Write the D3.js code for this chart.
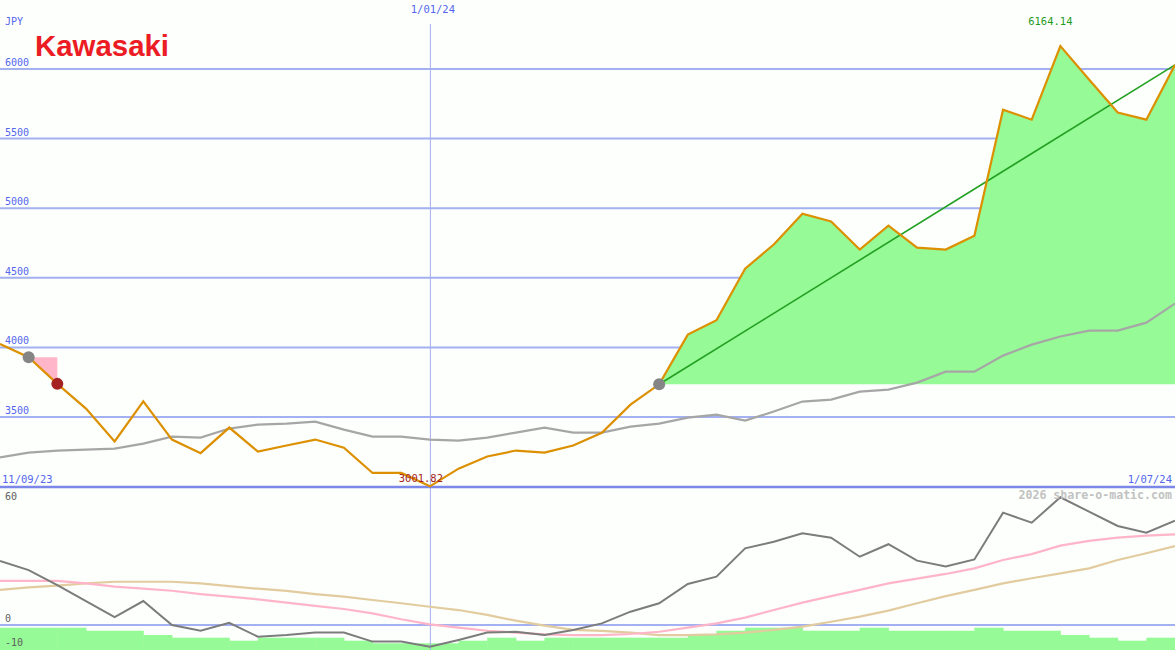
<!DOCTYPE html>
<html>
<head>
<meta charset="utf-8">
<script src="https://cdn.jsdelivr.net/npm/d3@7"></script>
<style>
  html, body { margin: 0; padding: 0; background: #fcfffc; }
  svg { display: block; }
  text { font-family: "DejaVu Sans Mono", monospace; }
</style>
</head>
<body>
<svg id="chart" width="1175" height="650"></svg>
<script>
// ---- data (weekly points, index 0..41) ----
const tickIndex  = [0, 15, 41];
const tickLabels = ["11/09/23", "1/01/24", "1/07/24"];
const priceTicks = [3500, 4000, 4500, 5000, 5500, 6000];
const lowerTicks = [60, 0, -10];

const prices = [4025,3930,3738,3560,3325,3613,3338,3240,3424,3251,
                3295,3338,3280,3098,3098,3001.82,3129,3216,3259,3244,
                3295,3386,3589,3735,4092,4195,4566,4739,4961,4904,
                4703,4875,4717,4703,4803,5708,5636,6164.14,5925,5687,
                5636,6030];
const movingAvg = [3210,3244,3259,3266,3273,3309,3359,3352,3417,3445,
                   3453,3467,3409,3359,3359,3338,3330,3352,3388,3424,
                   3388,3388,3431,3453,3496,3517,3474,3539,3611,3625,
                   3682,3697,3747,3826,3826,3941,4020,4078,4121,4121,
                   4178,4315];
const momentum = [31.2,26.8,19.5,11.7,3.9,11.7,0,-2.8,1.1,-5.7,
                  -4.9,-3.7,-3.7,-8.1,-8.1,-10.6,-7.3,-3.7,-3.3,-4.9,
                  -2.4,0.8,6.5,10.6,20,23.6,37.4,40.6,44.7,42.6,
                  33.3,39.4,31.4,28.5,32,54.8,49.9,62.3,55.3,48.3,
                  45,50.9];
const signalPink = [21.5,21.5,21.5,20.3,18.7,17.7,16.7,15.1,13.8,12.5,
                    10.9,9.3,7.8,5.7,2.8,0.3,-1.3,-2.8,-3.7,-4.6,
                    -4.9,-4.9,-4.4,-3.3,-1.3,0.8,3.6,7.3,10.9,14.1,
                    17.1,20.3,22.6,24.9,27.6,31.7,34.6,38.7,41,42.6,
                    43.6,44.2];
const signalTan = [17.1,18.4,19.2,20.3,21.1,21.1,21.1,20.3,19,17.7,
                   16.6,15.1,13.8,12.2,10.6,8.9,7.3,4.9,2.1,-0.3,
                   -2.4,-2.9,-3.7,-4.9,-4.9,-4.6,-3.7,-2.4,-0.8,1.6,
                   4.1,7,10.6,14.1,17.1,20.3,22.8,25.2,27.6,31.7,
                   35,38.5];
const volume = [2.23,2.23,2.23,1.93,1.93,1.5,1.23,1.23,0.93,1.23,
                1.23,1.23,0.93,0.67,0.67,0.67,0.93,1.23,0.93,1.23,
                1.23,1.23,1.23,1.23,1.5,1.93,2.23,2.23,1.93,1.93,
                2.23,1.93,1.93,1.93,2.23,1.93,1.93,1.5,1.23,0.93,
                1.23];
const sellIdx = [1, 2];     // grey -> red marker span
const buyIdx  = 23;        // grey marker, start of trend
const currency = "JPY";
const company  = "Kawasaki";
const credit   = "2026 share-o-matic.com";

// ---- layout ----
const W = 1175, H = 650;
const svg = d3.select("#chart");
svg.append("rect").attr("width", W).attr("height", H).attr("fill", "#fcfffc");

const x = d3.scaleLinear().domain([0, prices.length - 1]).range([0, W]);
const y = d3.scaleLinear().domain([3000, 6000]).range([486.6, 69]);
const yl = d3.scaleLinear().domain([0, 60]).range([625, 502]);
const yv = d3.scaleLinear().domain([0, 2.23]).range([650, 627.7]);

const blue = "#5566ee";

// grid lines (upper)
svg.append("g").selectAll("line").data(priceTicks).join("line")
  .attr("x1", 0).attr("x2", W)
  .attr("y1", d => y(d)).attr("y2", d => y(d))
  .attr("stroke", "#a3b1f3").attr("stroke-width", 2);
svg.append("g").selectAll("text").data(priceTicks).join("text")
  .attr("x", 5).attr("y", d => y(d) - 3)
  .attr("fill", blue).attr("font-size", 10).text(d => d);

// volume bars (lower)
svg.append("g").selectAll("rect").data(volume).join("rect")
  .attr("x", (d, i) => x(i)).attr("width", (d, i) => x(i + 1) - x(i) + 0.5)
  .attr("y", d => yv(d)).attr("height", d => yv(0) - yv(d))
  .attr("fill", "#96fa96");

// lower zero line
svg.append("line").attr("x1", 0).attr("x2", W)
  .attr("y1", yl(0)).attr("y2", yl(0))
  .attr("stroke", "#a3b1f3").attr("stroke-width", 2);

// vertical date line
svg.append("line")
  .attr("x1", x(tickIndex[1]) + 0.5).attr("x2", x(tickIndex[1]) + 0.5)
  .attr("y1", 24).attr("y2", H)
  .attr("stroke", "#a6aef0").attr("stroke-width", 1);

// upper axis line at 3000
svg.append("line").attr("x1", 0).attr("x2", W)
  .attr("y1", y(3000) + 0.5).attr("y2", y(3000) + 0.5)
  .attr("stroke", "#7b88ea").attr("stroke-width", 2.5);

// lower lines
const lineL = d3.line().x((d, i) => x(i)).y(d => yl(d));
svg.append("path").datum(signalTan).attr("d", lineL)
  .attr("fill", "none").attr("stroke", "#e2cc9f").attr("stroke-width", 2.2);
svg.append("path").datum(signalPink).attr("d", lineL)
  .attr("fill", "none").attr("stroke", "#ffb5c9").attr("stroke-width", 2.2);
svg.append("path").datum(momentum).attr("d", lineL)
  .attr("fill", "none").attr("stroke", "#7c7c7c").attr("stroke-width", 2);

// green area from buy point to end
const base = prices[buyIdx];
const gData = prices.map((v, i) => ({i, v})).filter(d => d.i >= buyIdx);
svg.append("path").datum(gData)
  .attr("d", d3.area().x(d => x(d.i)).y0(y(base)).y1(d => y(d.v)))
  .attr("fill", "#96fa96");

// pink area for sell span
const pData = prices.map((v, i) => ({i, v})).filter(d => d.i >= sellIdx[0] && d.i <= sellIdx[1]);
svg.append("path").datum(pData)
  .attr("d", d3.area().x(d => x(d.i)).y0(y(prices[sellIdx[0]])).y1(d => y(d.v)))
  .attr("fill", "#ffb6c8");

// moving average (upper)
const lineU = d3.line().x((d, i) => x(i)).y(d => y(d));
svg.append("path").datum(movingAvg).attr("d", lineU)
  .attr("fill", "none").attr("stroke", "#a6a6a6").attr("stroke-width", 2.2);

// trend line
const last = prices.length - 1;
svg.append("line")
  .attr("x1", x(buyIdx)).attr("y1", y(base))
  .attr("x2", x(last)).attr("y2", y(prices[last]))
  .attr("stroke", "#22a022").attr("stroke-width", 1.6);

// price line
svg.append("path").datum(prices).attr("d", lineU)
  .attr("fill", "none").attr("stroke", "#dc9000").attr("stroke-width", 2.2);

// markers
svg.append("circle").attr("cx", x(sellIdx[0])).attr("cy", y(prices[sellIdx[0]]))
  .attr("r", 6).attr("fill", "#858585");
svg.append("circle").attr("cx", x(sellIdx[1])).attr("cy", y(prices[sellIdx[1]]))
  .attr("r", 6).attr("fill", "#a52222");
svg.append("circle").attr("cx", x(buyIdx)).attr("cy", y(base))
  .attr("r", 6).attr("fill", "#858585");

// max / min labels
const maxI = d3.maxIndex(prices), minI = d3.minIndex(prices);
svg.append("text").attr("x", x(maxI) - 10).attr("y", 25)
  .attr("text-anchor", "middle").attr("fill", "#1e9a1e").attr("font-size", 10.5)
  .text(prices[maxI].toFixed(2));
svg.append("text").attr("x", x(minI) - 9).attr("y", y(prices[minI]) - 4)
  .attr("text-anchor", "middle").attr("fill", "#a52222").attr("font-size", 10.5)
  .text(prices[minI].toFixed(2));

// date labels
svg.append("text").attr("x", 2).attr("y", 483).attr("fill", blue)
  .attr("font-size", 10.5).text(tickLabels[0]);
svg.append("text").attr("x", x(tickIndex[1]) + 3).attr("y", 13)
  .attr("text-anchor", "middle").attr("fill", blue).attr("font-size", 10.5).text(tickLabels[1]);
svg.append("text").attr("x", W - 3).attr("y", 483).attr("text-anchor", "end")
  .attr("fill", blue).attr("font-size", 10.5).text(tickLabels[2]);

// currency
svg.append("text").attr("x", 5).attr("y", 25).attr("fill", blue)
  .attr("font-size", 10).text(currency);

// lower tick labels
svg.append("g").selectAll("text").data(lowerTicks).join("text")
  .attr("x", 5).attr("y", d => d === 60 ? 500 : (d === 0 ? 622 : 646))
  .attr("fill", "#606060").attr("font-size", 10).text(d => d);

// credit
svg.append("text").attr("x", W - 3).attr("y", 499).attr("text-anchor", "end")
  .attr("fill", "#c2c2c2").attr("font-size", 11.6).attr("font-weight", "bold").text(credit);

// logo
svg.append("text").attr("x", 35).attr("y", 56)
  .attr("fill", "#ec1c24").attr("font-size", 29).attr("font-weight", "bold")
  .style("font-family", "'Liberation Sans', Arial, sans-serif")
  .attr("textLength", 134).attr("lengthAdjust", "spacingAndGlyphs")
  .text(company);
</script>
</body>
</html>
